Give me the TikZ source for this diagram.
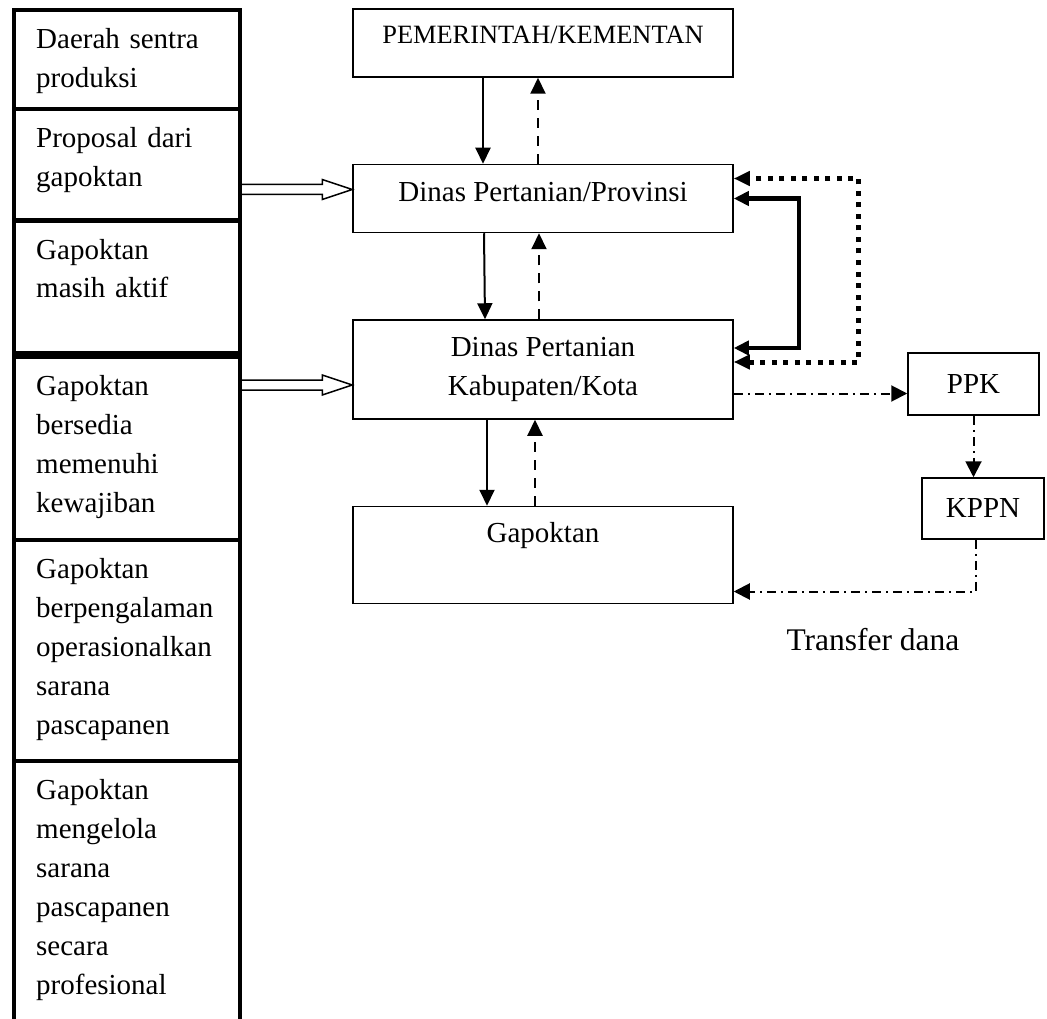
\documentclass[tikz,border=0pt]{standalone}
\usepackage{fontspec}
\setmainfont{Liberation Serif}
\usetikzlibrary{arrows.meta,positioning}

\begin{document}
\begin{tikzpicture}[
    x=1pt, y=-1pt,
    node distance=86pt,
    font=\fontsize{29pt}{39pt}\selectfont,
    box/.style={draw, line width=1.5pt, minimum width=380pt, align=center},
    smallbox/.style={draw, line width=1.5pt, minimum height=62pt, align=center},
    critbox/.style={draw, line width=4.5pt, outer sep=0pt, minimum width=226pt, anchor=north},
    crittext/.style={anchor=north west, inner sep=0pt, text width=200pt, align=left},
    solidarrow/.style={-{Triangle[length=16pt, width=15pt]}, line width=2pt},
    dasharrow/.style={solidarrow, dash pattern=on 10pt off 8pt},
    loopsolid/.style={{Triangle[length=15pt, width=14pt]}-{Triangle[length=15pt, width=14pt]}, line width=4.5pt},
    loopdotted/.style={{Triangle[length=16pt, width=14pt]}-{Triangle[length=16pt, width=14pt]}, line width=5pt, dash pattern=on 5pt off 6.5pt},
    fundarrow/.style={-{Triangle[length=16pt, width=16pt]}, line width=2pt, dash pattern=on 9pt off 5pt on 2pt off 5pt},
    hollowarrow/.style={line width=1.5pt, line join=miter}
]
\useasboundingbox (0,0) rectangle (1047,1019);

% kolom syarat di kiri
\node[critbox, minimum height=99pt] (crit1) at (127,10) {};
\node[critbox, minimum height=111.5pt, below=0pt of crit1] (crit2) {};
\node[critbox, minimum height=132.5pt, below=0pt of crit2] (crit3) {};
\node[critbox, minimum height=183pt, below=4pt of crit3] (crit4) {};
\node[critbox, minimum height=221pt, below=0pt of crit4] (crit5) {};
\node[critbox, minimum height=280pt, below=0pt of crit5] (crit6) {};

\node[crittext] (crit1txt) at ([xshift=22pt,yshift=-11pt]crit1.north west) {\strut Daerah sentra\\produksi};
\node[crittext] (crit2txt) at ([xshift=22pt,yshift=-11pt]crit2.north west) {\strut Proposal dari\\gapoktan};
\node[crittext] (crit3txt) at ([xshift=22pt,yshift=-11pt]crit3.north west) {\strut Gapoktan\\masih aktif};
\node[crittext] (crit4txt) at ([xshift=22pt,yshift=-11pt]crit4.north west) {\strut Gapoktan\\bersedia\\memenuhi\\kewajiban};
\node[crittext] (crit5txt) at ([xshift=22pt,yshift=-11pt]crit5.north west) {\strut Gapoktan\\berpengalaman\\operasionalkan\\sarana\\pascapanen};
\node[crittext] (crit6txt) at ([xshift=22pt,yshift=-11pt]crit6.north west) {\strut Gapoktan\\mengelola\\sarana\\pascapanen\\secara\\profesional};

% alur utama
\node[box, minimum height=68pt, font=\fontsize{26.4pt}{32pt}\selectfont, text depth=16pt] (pem) at (543,43) {PEMERINTAH/KEMENTAN};
\node[box, minimum height=68pt, text depth=14pt, below=of pem] (prov) {Dinas Pertanian/Provinsi};
\node[box, minimum height=99pt, below=of prov] (kab) {Dinas Pertanian\\Kabupaten/Kota};
\node[box, minimum height=97pt, text depth=45pt, below=of kab] (gap) {Gapoktan};

\node[smallbox, minimum width=131pt] (ppk) at (973.5,384) {PPK};
\node[smallbox, minimum width=122pt, minimum height=61pt] (kppn) at (983,508.5) {KPPN};
\node[font=\fontsize{31.5pt}{38pt}\selectfont, anchor=base] (transfer) at (873,650) {Transfer dana};

% panah berongga
\coordinate (h1b) at ([yshift=9pt]prov.west);
\coordinate (h1a) at (h1b -| crit2.east);
\coordinate (h2b) at ([yshift=-15.5pt]kab.west);
\coordinate (h2a) at (h2b -| crit4.east);
\foreach \s/\t in {h1a/h1b, h2a/h2b}
  \draw[hollowarrow] ([yshift=5pt]\s) -- ([xshift=-30pt,yshift=5pt]\t) -- ([xshift=-30pt,yshift=10pt]\t)
    -- (\t) -- ([xshift=-30pt,yshift=-10pt]\t) -- ([xshift=-30pt,yshift=-5pt]\t) -- ([yshift=-5pt]\s);

\draw[solidarrow] ([xshift=-60pt]pem.south) -- ([xshift=-60pt]prov.north);
\draw[dasharrow] ([xshift=-5pt]prov.north) -- ([xshift=-5pt]pem.south);
\draw[solidarrow] ([xshift=-59pt]prov.south) -- ([xshift=-58pt]kab.north);
\draw[dasharrow] ([xshift=-4pt]kab.north) -- ([xshift=-4pt]prov.south);
\draw[solidarrow] ([xshift=-56pt]kab.south) -- ([xshift=-56pt]gap.north);
\draw[dasharrow] ([xshift=-8pt]gap.north) -- ([xshift=-8pt]kab.south);

% koordinasi provinsi - kabupaten
\draw[loopsolid] ([yshift=21.5pt]kab.east) -- ++(65,0) |- (prov.east);
\draw[loopdotted] ([yshift=7.5pt]kab.east) -- ++(125,0) |- ([yshift=20pt]prov.east);

% aliran dana
\coordinate (f1) at ([yshift=-24pt]kab.east);
\draw[fundarrow] (f1) -- (f1 -| ppk.west);
\draw[fundarrow] (ppk.south) -- (ppk.south |- kppn.north);
\draw[fundarrow] ([xshift=-7pt]kppn.south) |- ([yshift=-36.5pt]gap.east);
\end{tikzpicture}
\end{document}
